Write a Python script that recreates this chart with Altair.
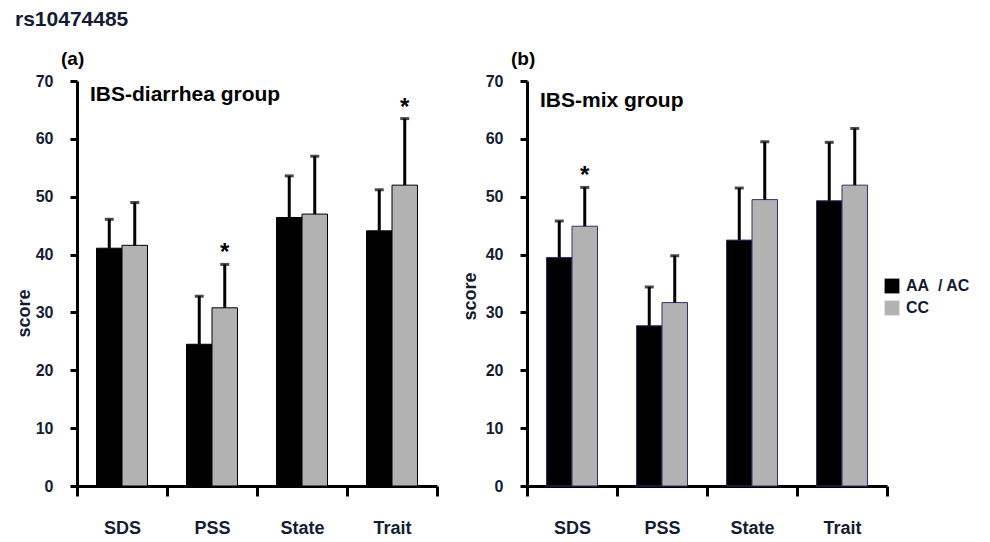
import altair as alt
import pandas as pd

# ---------------- data ----------------
categories = ["SDS", "PSS", "State", "Trait"]
genotypes = ["AA\u00a0 / AC", "CC"]

# panel (a) IBS-diarrhea group
a_aa_mean = [41.1, 24.5, 46.4, 44.1]
a_aa_sd = [5.0, 8.3, 7.2, 7.1]
a_aa_star = ["", "", "", ""]
a_cc_mean = [41.6, 30.8, 47.0, 52.0]
a_cc_sd = [7.4, 7.5, 10.0, 11.5]
a_cc_star = ["", "*", "", "*"]

# panel (b) IBS-mix group
b_aa_mean = [39.5, 27.7, 42.5, 49.3]
b_aa_sd = [6.3, 6.7, 9.0, 10.1]
b_aa_star = ["", "", "", ""]
b_cc_mean = [44.9, 31.7, 49.5, 52.0]
b_cc_sd = [6.7, 8.1, 10.0, 9.8]
b_cc_star = ["*", "", "", ""]

y_ticks = [0, 10, 20, 30, 40, 50, 60, 70]


def make_df(aa_mean, aa_sd, aa_star, cc_mean, cc_sd, cc_star):
    rows = []
    for g, means, sds, stars in [
        (genotypes[0], aa_mean, aa_sd, aa_star),
        (genotypes[1], cc_mean, cc_sd, cc_star),
    ]:
        for c, m, s, st in zip(categories, means, sds, stars):
            rows.append({"cat": c, "geno": g, "mean": m, "upper": m + s, "star": st})
    return pd.DataFrame(rows)


df_a = make_df(a_aa_mean, a_aa_sd, a_aa_star, a_cc_mean, a_cc_sd, a_cc_star)
df_b = make_df(b_aa_mean, b_aa_sd, b_aa_star, b_cc_mean, b_cc_sd, b_cc_star)

LABEL_COLOR = "#141c33"
FONT = "Liberation Sans"


def panel(df, group_label, bar_stroke, label_y, panel_title, score_x, score_y):
    x = alt.X(
        "cat:N",
        sort=categories,
        scale=alt.Scale(paddingInner=0, paddingOuter=0),
        axis=alt.Axis(
            title=None, labelAngle=0, tickBand="extent", tickSize=10, tickWidth=3,
            domainWidth=3, domainColor="black", tickColor="black",
            labelFont=FONT, labelFontSize=18, labelFontWeight="bold",
            labelColor=LABEL_COLOR, labelPadding=23,
        ),
    )
    xo = alt.XOffset("geno:N", sort=genotypes,
                     scale=alt.Scale(paddingInner=0, paddingOuter=0.765))
    y = alt.Y(
        "mean:Q",
        scale=alt.Scale(domain=[0, 70], nice=False),
        axis=alt.Axis(
            values=y_ticks, tickSize=7, tickWidth=3, domainWidth=3,
            domainColor="black", tickColor="black", grid=False,
            labelFont=FONT, labelFontSize=16, labelFontWeight="bold",
            labelColor=LABEL_COLOR, labelPadding=17,
            title="score", titleFont=FONT, titleFontSize=18, titleFontWeight="bold",
            titleColor=LABEL_COLOR, titleX=score_x, titleY=score_y,
            titleAlign="center", titleBaseline="alphabetic", titleAngle=270,
        ),
    )
    color = alt.Color(
        "geno:N", sort=genotypes,
        scale=alt.Scale(domain=genotypes, range=["#000000", "#b2b2b2"]),
        legend=alt.Legend(
            title=None, orient="none", legendX=807, legendY=197,
            symbolType="square", symbolSize=220, symbolStrokeWidth=0,
            labelFont=FONT, labelFontSize=16, labelFontWeight="bold",
            labelColor=LABEL_COLOR, rowPadding=6, labelOffset=6,
        ),
    )
    base = alt.Chart(df)
    bars = base.mark_bar(stroke=bar_stroke, strokeWidth=1).encode(
        x=x, xOffset=xo, y=y, color=color)
    err = base.mark_rule(color="black", strokeWidth=3).encode(
        x=x, xOffset=xo, y="mean:Q", y2="upper:Q")
    caps = base.mark_tick(color="black", thickness=3, size=9).encode(
        x=x, xOffset=xo, y="upper:Q")
    stars = base.transform_filter(alt.datum.star != "").mark_text(
        font=FONT, fontSize=24, fontWeight="bold", color="black",
        baseline="alphabetic", dy=-4,
    ).encode(x=x, xOffset=xo, y="upper:Q", text="star:N")
    label = alt.Chart(pd.DataFrame({"t": [group_label]})).mark_text(
        align="left", baseline="alphabetic", font=FONT,
        fontSize=21, fontWeight="bold", color="black",
    ).encode(x=alt.value(13), y=alt.value(label_y), text="t:N")
    return alt.layer(bars, err, caps, stars, label).properties(
        width=360, height=405,
        title=alt.TitleParams(panel_title, anchor="start", frame="group", dx=-16,
                              offset=4, fontSize=19, font=FONT,
                              fontWeight="bold", color="black"),
    )


pa = panel(df_a, "IBS-diarrhea group", "black", 20, "(a)", -48, 232)
pb = panel(df_b, "IBS-mix group", "#3a2d6b", 26, "(b)", -52, 215)

chart = alt.hconcat(
    pa, pb, spacing=22,
    title=alt.TitleParams("rs10474485", anchor="start", fontSize=21,
                          font=FONT, fontWeight="bold", dy=-15,
                          color=LABEL_COLOR, offset=5),
).configure_view(stroke=None).properties(
    padding={"left": 7, "top": 1, "right": 0, "bottom": 0}
)

chart.save("out.html", embed_options={"renderer": "svg", "actions": False})
